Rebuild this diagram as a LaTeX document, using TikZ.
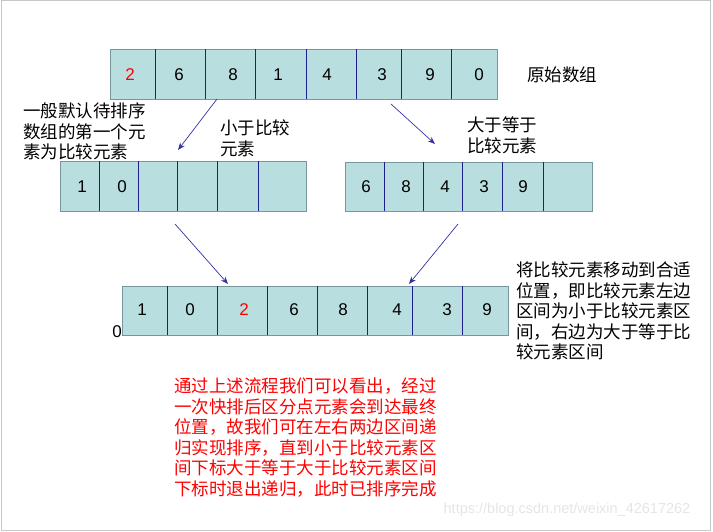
\documentclass[tikz,border=0pt]{standalone}
\usepackage{fontspec}
\setmainfont{Liberation Sans}
\newfontfamily\cjk{Noto Sans CJK SC}
\usetikzlibrary{arrows.meta}
\definecolor{cellfill}{RGB}{185,222,224}
\definecolor{boxline}{RGB}{120,150,158}
\definecolor{divline}{RGB}{30,30,140}
\definecolor{arrcol}{RGB}{50,50,160}
\definecolor{framecol}{RGB}{200,200,200}

\begin{document}
\begin{tikzpicture}[
    x=1pt, y=-1pt,
    arrbox/.style={draw=boxline, fill=cellfill, line width=0.8pt, inner sep=0pt, anchor=north west},
    div/.style={draw=divline, line width=0.8pt},
    num/.style={font=\fontsize{17}{20}\selectfont, inner sep=0pt},
    note/.style={font=\cjk\fontsize{17.5}{20.5}\selectfont, align=left, anchor=north west, inner sep=0pt},
    arr/.style={draw=arrcol, line width=0.7pt, -{Stealth[length=2.6mm, width=2mm]}}
]
\useasboundingbox (0,0) rectangle (713,531);
\draw[framecol, line width=1pt] (1,0.5) rectangle (710.5,530);

% original array
\node[arrbox, minimum width=387pt, minimum height=50pt] (orig) at (110,49) {};
\foreach \x in {155,205,255,306,356,401,451}
  \draw[div] (\x,49) -- (\x,99);
\foreach \x/\v [count=\i] in {130/{\color{red}2},179/6,233/8,278/1,327/4,382/3,430/9,479/0}
  \node[num] (o\i) at (\x,75) {\v};
\node[note, anchor=west] (origlbl) at (527,75) {原始数组};

% smaller part
\node[arrbox, minimum width=246pt, minimum height=50pt] (less) at (60,161) {};
\foreach \x in {99,138,177,217,258}
  \draw[div] (\x,161) -- (\x,211);
\foreach \x/\v [count=\i] in {82/1,122/0}
  \node[num] (l\i) at (\x,187) {\v};

% larger or equal part
\node[arrbox, minimum width=247pt, minimum height=49pt] (geq) at (345,162) {};
\foreach \x in {384,423,462,502,543}
  \draw[div] (\x,162) -- (\x,211);
\foreach \x/\v [count=\i] in {366/6,406/8,445/4,484/3,523/9}
  \node[num] (g\i) at (\x,187) {\v};

% result array
\node[arrbox, minimum width=386pt, minimum height=49pt] (res) at (122,286) {};
\foreach \x in {167,217,267,317,367,412,462}
  \draw[div] (\x,286) -- (\x,335);
\foreach \x/\v [count=\i] in {142/1,190/0,244/{\color{red}2},294/6,343/8,397/4,447/3,487/9}
  \node[num] (r\i) at (\x,310) {\v};
\node[num] (zero) at (117,332) {0};

% notes
\node[note] (first) at (23,103) {一般默认待排序\\数组的第一个元\\素为比较元素};
\node[note] (lesslbl) at (220,120) {小于比较\\元素};
\node[note] (geqlbl) at (467,117) {大于等于\\比较元素};
\node[note] (move) at (516,262) {将比较元素移动到合适\\位置，即比较元素左边\\区间为小于比较元素区\\间，右边为大于等于比\\较元素区间};
\node[note, text=red] (sum) at (174,378) {通过上述流程我们可以看出，经过\\一次快排后区分点元素会到达最终\\位置，故我们可在左右两边区间递\\归实现排序，直到小于比较元素区\\间下标大于等于大于比较元素区间\\下标时退出递归，此时已排序完成};
\node[font=\fontsize{14.5}{16}\selectfont, text=black!10, inner sep=0pt] (mark) at (567,510) {https://blog.csdn.net/weixin\_42617262};

% arrows
\coordinate (p1) at (217,99);
\coordinate (q1) at (178,150);
\coordinate (p2) at (391,104);
\coordinate (q2) at (435,144);
\coordinate (p3) at (175,224);
\coordinate (q3) at (228,284);
\coordinate (p4) at (458,224);
\coordinate (q4) at (409,284);
\draw[arr] (p1) -- (q1);
\draw[arr] (p2) -- (q2);
\draw[arr] (p3) -- (q3);
\draw[arr] (p4) -- (q4);
\end{tikzpicture}
\end{document}
